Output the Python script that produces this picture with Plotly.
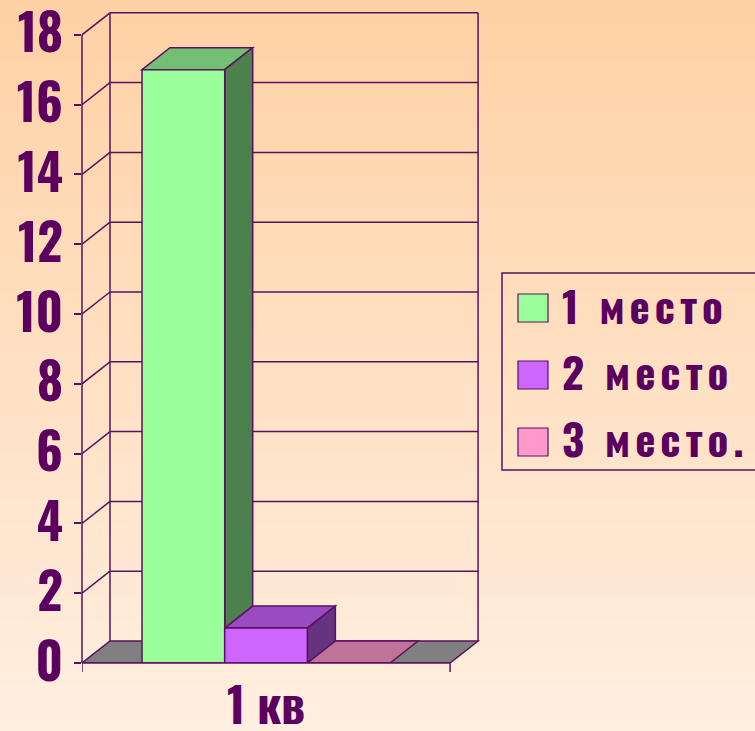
import plotly.graph_objects as go

# ---- data ----
categories = ["1 кв"]
series_names = ["1 место", "2 место", "3 место."]
series_values = [17, 1, 0]
series_colors = ["#99FF99", "#CC66FF", "#FF99CC"]
y_ticks = [0, 2, 4, 6, 8, 10, 12, 14, 16, 18]

# ---- styling / geometry ----
W, H = 755, 731
ML, MR, MT, MB = 82, 274, 9, 68
PW, PH = W - ML - MR, H - MT - MB
LINE = "#5a1060"
TXT = "#5c0060"
FONT = "Oswald, Roboto Condensed, sans-serif"

n = len(series_values)
gap = 0.726                      # empty floor at each side of the bar group (bar widths)
xL = -0.5 - gap
xR = (n - 0.5) + gap
depth_px_x, depth_px_y = 28, 22
x_range = [xL, xR + 0.374]
pxx = PW / (x_range[1] - x_range[0])
ymax = max(y_ticks)
y_range = [0, PH / 34.9]
pxy = PH / (y_range[1] - y_range[0])
DX = depth_px_x / pxx
DY = depth_px_y / pxy


def shade(hexc, f):
    h = hexc.lstrip("#")
    r, g, b = (int(h[i:i + 2], 16) for i in (0, 2, 4))
    return "rgb(%d,%d,%d)" % (round(r * f), round(g * f), round(b * f))


def poly(pts):
    return "M " + " L ".join("%f,%f" % p for p in pts) + " Z"


def px2paper_x(p):
    return (p - ML) / PW


def px2paper_y(p):
    return (H - MB - p) / PH


shapes = []

# background gradient
top_c = (255, 209, 165)
bot_c = (255, 239, 224)
NS = 120
for k in range(NS):
    t = k / (NS - 1)
    c = tuple(round(top_c[j] + (bot_c[j] - top_c[j]) * t) for j in range(3))
    y0 = k * H / NS
    y1 = (k + 1) * H / NS + 1
    shapes.append(dict(type="rect", xref="paper", yref="paper", layer="below",
                       x0=px2paper_x(0), x1=px2paper_x(W),
                       y0=px2paper_y(y0), y1=px2paper_y(y1),
                       fillcolor="rgb(%d,%d,%d)" % c, line=dict(width=0)))

# floor
shapes.append(dict(type="path", xref="x", yref="y", layer="below",
                   path=poly([(xL, 0), (xL + DX, DY), (xR + DX, DY), (xR, 0)]),
                   fillcolor="#808080", line=dict(color=LINE, width=1.5)))

# walls and gridlines
wall_line = dict(color=LINE, width=1.5)
for v in y_ticks[1:]:
    shapes.append(dict(type="line", xref="x", yref="y", layer="below",
                       x0=xL + DX, x1=xR + DX, y0=v + DY, y1=v + DY, line=wall_line))
    shapes.append(dict(type="line", xref="x", yref="y", layer="below",
                       x0=xL, x1=xL + DX, y0=v, y1=v + DY, line=wall_line))
shapes.append(dict(type="line", xref="x", yref="y", layer="below",
                   x0=xL + DX, x1=xL + DX, y0=DY, y1=ymax + DY, line=wall_line))
shapes.append(dict(type="line", xref="x", yref="y", layer="below",
                   x0=xR + DX, x1=xR + DX, y0=DY, y1=ymax + DY, line=wall_line))

# 3D tops and sides of bars
for i, (v, c) in enumerate(zip(series_values, series_colors)):
    x0, x1 = i - 0.5, i + 0.5
    shapes.append(dict(type="path", xref="x", yref="y", layer="below",
                       path=poly([(x0, v), (x0 + DX, v + DY), (x1 + DX, v + DY), (x1, v)]),
                       fillcolor=shade(c, 0.75), line=dict(color=LINE, width=1.5)))
    if v > 0:
        shapes.append(dict(type="path", xref="x", yref="y", layer="below",
                           path=poly([(x1, v), (x1 + DX, v + DY), (x1 + DX, DY), (x1, 0)]),
                           fillcolor=shade(c, 0.5), line=dict(color=LINE, width=1.5)))

# front axis line (left) and front floor edge with end ticks
shapes.append(dict(type="line", xref="paper", yref="y", layer="above",
                   x0=0, x1=0, y0=0, y1=ymax, line=wall_line))
shapes.append(dict(type="line", xref="x", yref="paper", layer="above",
                   x0=xL, x1=xR, y0=0, y1=0, line=wall_line))
for xe in (xL, xR):
    shapes.append(dict(type="line", xref="x", yref="paper", layer="above",
                       x0=xe, x1=xe, y0=0, y1=px2paper_y(H - MB + 9), line=wall_line))

# custom legend
shapes.append(dict(type="rect", xref="paper", yref="paper", layer="above",
                   x0=px2paper_x(502), x1=px2paper_x(W + 10),
                   y0=px2paper_y(273), y1=px2paper_y(470),
                   line=dict(color=LINE, width=1.5), fillcolor="rgba(0,0,0,0)"))
annotations = []
for i, (name, c) in enumerate(zip(series_names, series_colors)):
    yc = 308 + 67 * i
    shapes.append(dict(type="rect", xref="paper", yref="paper", layer="above",
                       x0=px2paper_x(518), x1=px2paper_x(548),
                       y0=px2paper_y(yc - 14), y1=px2paper_y(yc + 14),
                       fillcolor=c, line=dict(color=LINE, width=1.2)))
    annotations.append(dict(xref="paper", yref="paper", x=px2paper_x(560), y=px2paper_y(yc - 4),
                            xanchor="left", yanchor="middle", showarrow=False,
                            text='<span style="letter-spacing:5px">%s</span>' % name,
                            font=dict(family=FONT, size=43, color=TXT, weight=700)))

fig = go.Figure()
for i, (name, v, c) in enumerate(zip(series_names, series_values, series_colors)):
    fig.add_trace(go.Bar(x=[i], y=[v], width=[1.0], name=name, showlegend=False,
                         marker=dict(color=c, line=dict(color=LINE, width=1.5)),
                         hoverinfo="name+y"))

fig.update_layout(
    width=W, height=H,
    margin=dict(l=ML, r=MR, t=MT, b=MB, autoexpand=False),
    paper_bgcolor="#FFE3C8", plot_bgcolor="rgba(0,0,0,0)",
    showlegend=False, barmode="overlay",
    shapes=shapes, annotations=annotations,
    xaxis=dict(range=x_range, tickvals=[(n - 1) / 2], ticktext=categories,
               ticks="", showgrid=False, zeroline=False, showline=False,
               tickfont=dict(family=FONT, size=47, color=TXT, weight=700),
               ticklabelstandoff=13, ticklabeloverflow="allow"),
    yaxis=dict(range=y_range, tickvals=y_ticks, ticks="outside", ticklen=7,
               tickwidth=1.5, tickcolor=LINE, showgrid=False, zeroline=False,
               showline=False,
               tickfont=dict(family=FONT, size=50, color=TXT, weight=700),
               ticklabelstandoff=1, ticklabeloverflow="allow"),
)

fig.write_html("out.html", config=dict(displayModeBar=False),
               post_script="document.body.style.margin='0px';")
